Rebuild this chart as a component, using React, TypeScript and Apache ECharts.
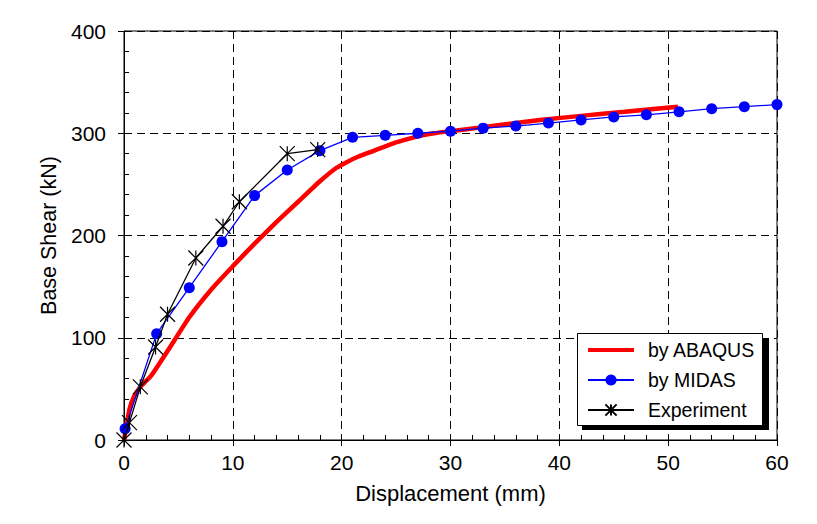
import React, { useEffect, useRef } from "react";
import * as echarts from "echarts";

const abaqusX = [0, 0.25, 0.5, 0.9, 1.5, 2.5, 4, 6, 8, 10, 12, 14, 16, 18, 19.5, 20.5, 21.5, 23, 25, 27, 28.5, 30, 33, 36, 38.2, 42, 46, 50.9];
const abaqusY = [0, 15, 30, 42, 52, 63, 87, 120, 147, 170, 192, 213, 233, 253, 266, 272, 277, 283, 291, 297, 300, 302, 306, 310, 313, 317, 321, 326];

const midasX = [0.1, 3, 6, 9, 12, 15, 18, 21, 24, 27, 30, 33, 36, 39, 42, 45, 48, 51, 54, 57, 60];
const midasY = [11, 104, 149, 194, 239, 264, 283, 296, 298, 300, 302, 305, 307, 310, 313, 316, 318, 321, 324, 326, 328];

const expX = [0, 0.5, 1.5, 2.9, 4, 6.6, 9.1, 10.6, 15, 17.8];
const expY = [0, 17, 52, 91, 123, 178, 209, 233, 280, 284];

const seriesNames = ["by ABAQUS", "by MIDAS", "Experiment"];
const xTicks = { min: 0, max: 60, interval: 10 };
const yTicks = { min: 0, max: 400, interval: 100 };

const FONT = "Liberation Sans, Arial, sans-serif";
const STAR = "path://M0,0L10,10M0,10L10,0M5,0L5,10";
const THICK_LINE = "path://M0,0H46V4H0Z";

function pairs(xs: number[], ys: number[]) {
  return xs.map((x, i) => [x, ys[i]]);
}

export default function App() {
  const ref = useRef<HTMLDivElement>(null);
  useEffect(() => {
    if (!ref.current) return;
    const chart = echarts.init(ref.current, undefined, { renderer: "svg" });
    const dash = { color: "#000", width: 1, type: [8, 5] as any };
    chart.setOption({
      animation: false,
      backgroundColor: "#fff",
      textStyle: { fontFamily: FONT },
      grid: {
        left: 124,
        top: 31,
        right: 40,
        bottom: 84,
        show: true,
        borderColor: "#000",
        borderWidth: 1,
        backgroundColor: "transparent",
      },
      xAxis: [
        {
          type: "value",
          position: "bottom",
          ...xTicks,
          axisLine: { show: true, onZero: false, lineStyle: { color: "#000", width: 1 } },
          axisTick: { show: true, inside: false, length: 6, lineStyle: { color: "#000" } },
          axisLabel: { color: "#000", fontSize: 21, fontFamily: FONT, margin: 12 },
          splitLine: { show: true, lineStyle: dash },
          name: "Displacement (mm)",
          nameLocation: "middle",
          nameGap: 42,
          nameTextStyle: { color: "#000", fontSize: 22, fontFamily: FONT },
        },
        {
          type: "value",
          position: "bottom",
          ...xTicks,
          axisLine: { show: false, onZero: false },
          axisTick: { show: true, inside: true, length: 6, lineStyle: { color: "#000" } },
          minorTick: { show: true, splitNumber: 5, length: 5, lineStyle: { color: "#000" } },
          axisLabel: { show: false },
          splitLine: { show: false },
        },
      ],
      yAxis: [
        {
          type: "value",
          position: "left",
          ...yTicks,
          axisLine: { show: true, onZero: false, lineStyle: { color: "#000", width: 1 } },
          axisTick: { show: true, inside: false, length: 6, lineStyle: { color: "#000" } },
          axisLabel: { color: "#000", fontSize: 21, fontFamily: FONT, margin: 18 },
          splitLine: { show: true, lineStyle: dash },
          name: "Base Shear (kN)",
          nameLocation: "middle",
          nameGap: 52,
          nameTextStyle: { color: "#000", fontSize: 21.5, fontFamily: FONT },
        },
        {
          type: "value",
          position: "left",
          ...yTicks,
          axisLine: { show: false, onZero: false },
          axisTick: { show: true, inside: true, length: 6, lineStyle: { color: "#000" } },
          minorTick: { show: true, splitNumber: 5, length: 5, lineStyle: { color: "#000" } },
          axisLabel: { show: false },
          splitLine: { show: false },
        },
      ],
      legend: {
        orient: "vertical",
        left: 587,
        top: 340,
        padding: 0,
        itemWidth: 46,
        itemHeight: 14,
        itemGap: 10,
        z: 10,
        textStyle: { color: "#000", fontSize: 19.5, fontFamily: FONT, lineHeight: 20, padding: [0, 0, 0, 9] },
        data: [
          { name: seriesNames[0], icon: THICK_LINE },
          { name: seriesNames[1] },
          { name: seriesNames[2] },
        ],
      },
      graphic: [
        { type: "rect", z: 8, shape: { x: 582, y: 338, width: 187, height: 92 }, style: { fill: "#000" } },
        { type: "rect", z: 9, shape: { x: 577.5, y: 333.5, width: 185, height: 92 }, style: { fill: "#fff", stroke: "#000", lineWidth: 1 } },
      ],
      series: [
        {
          name: seriesNames[0],
          type: "line",
          data: pairs(abaqusX, abaqusY),
          showSymbol: false,
          symbol: "none",
          smooth: 0.15,
          lineStyle: { color: "#ff0000", width: 4.5 },
          itemStyle: { color: "#ff0000" },
          z: 2,
        },
        {
          name: seriesNames[1],
          type: "line",
          data: pairs(midasX, midasY),
          symbol: "circle",
          symbolSize: 11,
          lineStyle: { color: "#0000ff", width: 1.3 },
          itemStyle: { color: "#0000ff", borderWidth: 0 },
          z: 3,
        },
        {
          name: seriesNames[2],
          type: "line",
          data: pairs(expX, expY),
          symbol: STAR,
          symbolSize: 15,
          lineStyle: { color: "#000", width: 1.3 },
          itemStyle: { color: "none", borderColor: "#000", borderWidth: 1.2 },
          z: 4,
        },
      ],
    });
    return () => chart.dispose();
  }, []);
  return <div ref={ref} style={{ width: 817, height: 524, marginLeft: -8, marginTop: -8 }} />;
}
